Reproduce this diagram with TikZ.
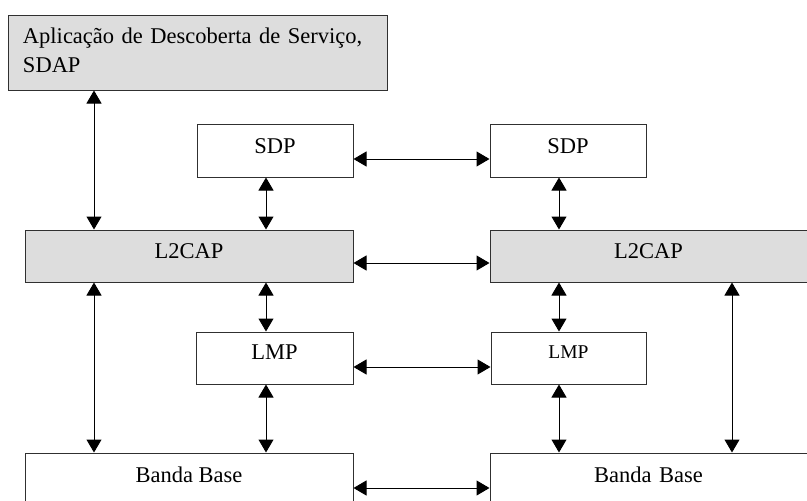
\documentclass[tikz,border=0pt]{standalone}
\usepackage{fontspec}
\setmainfont{Liberation Serif}
\usetikzlibrary{arrows.meta}
\definecolor{boxgray}{RGB}{221,221,221}
\definecolor{edge}{RGB}{48,48,48}
\tikzset{
  box/.style={draw=edge, line width=1pt, fill=white, inner sep=0pt, text=black,
    font=\fontsize{22.5}{27}\selectfont, text height=14pt, text depth=10pt},
  graybox/.style={box, fill=boxgray},
  bi/.style={draw=black, line width=1pt, {Triangle[length=13pt,width=15pt]}-{Triangle[length=13pt,width=15pt]}}
}
\begin{document}
\begin{tikzpicture}[x=1pt,y=-1pt]
\useasboundingbox (0,0) rectangle (807,501);
\clip (0,0) rectangle (807,501);
% columns and rows for connectors
\coordinate (cA) at (94,0);
\coordinate (cB) at (266,0);
\coordinate (cC) at (559,0);
\coordinate (cD) at (732,0);
\coordinate (r1) at (0,159);
\coordinate (r2) at (0,263);
\coordinate (r3) at (0,367);
\coordinate (r4) at (0,488);
% boxes
\node[graybox, minimum width=379pt, minimum height=75pt, text width=349pt, align=left,
  text height=, text depth=, font=\fontsize{22.5}{29}\selectfont] (sdap) at (197.5,52.5)
  {\strut Aplicação de Descoberta de Serviço,\\SDAP\strut};
\node[box, minimum width=156pt, minimum height=53pt, text height=15pt, text depth=9pt] (sdpL) at (275,150.5) {SDP};
\node[box, minimum width=156pt, minimum height=53pt, text height=15pt, text depth=9pt] (sdpR) at (568,150.5) {SDP};
\node[graybox, minimum width=328pt, minimum height=52pt] (l2L) at (189,256) {L2CAP};
\node[graybox, minimum width=340pt, minimum height=52pt, text width=317pt, align=center] (l2R) at (660,256) {L2CAP\hspace*{23pt}};
\node[box, minimum width=157pt, minimum height=52pt, text height=14pt, text depth=11pt] (lmpL) at (274.5,358) {LMP};
\node[box, minimum width=155pt, minimum height=52pt, font=\fontsize{19.5}{23}\selectfont, text height=13pt, text depth=13pt] (lmpR) at (568.5,358) {LMP};
\node[box, minimum width=328pt, minimum height=54pt] (bbL) at (189,480) {Banda Base};
\node[box, minimum width=340pt, minimum height=54pt, text width=317pt, align=center] (bbR) at (660,480) {Banda Base\hspace*{23pt}};
% vertical connectors
\draw[bi] (sdap.south -| cA) -- (l2L.north -| cA);
\draw[bi] (sdpL.south -| cB) -- (l2L.north -| cB);
\draw[bi] (sdpR.south -| cC) -- (l2R.north -| cC);
\draw[bi] (l2L.south -| cA) -- (bbL.north -| cA);
\draw[bi] (l2L.south -| cB) -- (lmpL.north -| cB);
\draw[bi] (l2R.south -| cC) -- (lmpR.north -| cC);
\draw[bi] (l2R.south -| cD) -- (bbR.north -| cD);
\draw[bi] (lmpL.south -| cB) -- (bbL.north -| cB);
\draw[bi] (lmpR.south -| cC) -- (bbR.north -| cC);
% horizontal connectors
\draw[bi] (sdpL.east |- r1) -- (sdpR.west |- r1);
\draw[bi] (l2L.east |- r2) -- (l2R.west |- r2);
\draw[bi] (lmpL.east |- r3) -- (lmpR.west |- r3);
\draw[bi] (bbL.east |- r4) -- (bbR.west |- r4);
\end{tikzpicture}
\end{document}
